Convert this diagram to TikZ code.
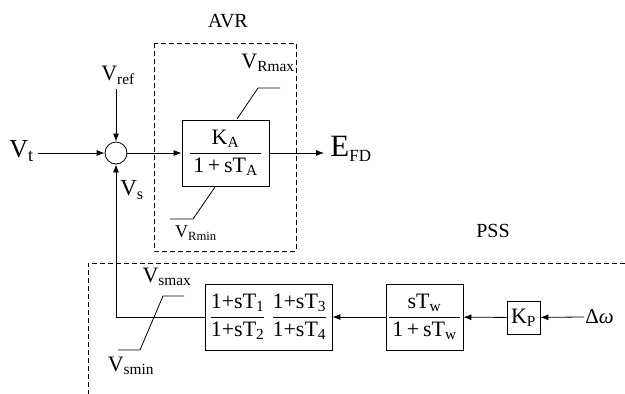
\documentclass[tikz,border=0pt]{standalone}
\usepackage{amsmath}
\usepackage{fontspec}
\setmainfont{Liberation Serif}
\usetikzlibrary{ positioning, arrows.meta, calc }

\begin{document}
\begin{tikzpicture}[x=1pt, y=-1pt, line width=0.8pt,
  every node/.style={font=\fontsize{20}{22}\selectfont, inner sep=0pt},
  blk/.style={draw, rectangle, minimum height=66pt, font=\fontsize{22}{24}\selectfont},
  arr/.style={-{Latex[length=8pt,width=6pt]}},
  frame/.style={dash pattern=on 5pt off 3pt, line width=0.7pt}]
  \useasboundingbox (0,0) rectangle (625,394);

  % AVR part
  \draw[frame] (154,43) rectangle (296,251);
  \node (avr) at (228,21) {AVR};
  \node[circle, draw, minimum size=22pt] (sum) at (116,153) {};
  \coordinate (vtin) at (38,153);
  \node[anchor=east, font=\fontsize{26}{28}\selectfont] (vt) at (34,151) {V\textsubscript{t}};
  \coordinate (vrefin) at (116,89);
  \node[anchor=south, font=\fontsize{22}{24}\selectfont] (vref) at (118,85) {V\textsubscript{ref}};
  \node[font=\fontsize{23}{25}\selectfont] (vs) at (132,190) {V\textsubscript{s}};
  \node[blk, minimum width=87pt] (ka) at (225.5,153)
    {$\dfrac{\text{K\textsubscript{A}}}{\,\text{1\,+\,sT\textsubscript{A}}\,}$};
  \coordinate (efdin) at (324,153);
  \node[anchor=west, font=\fontsize{31}{33}\selectfont] (efd) at (330,149)
    {E\raisebox{-5pt}{\fontsize{17}{17}\selectfont FD}};
  \draw[arr] (vtin) -- (sum);
  \draw[arr] (vrefin) -- (sum);
  \draw[arr] (sum) -- (ka);
  \draw[arr] (ka) -- (efdin);
  % limits
  \draw (237,119) -- (258,88) -- (280,88);
  \node[font=\fontsize{22}{24}\selectfont] (vrmax) at (268,63) {V\textsubscript{Rmax}};
  \draw (215,187) -- (193,219) -- (170,219);
  \node[font=\fontsize{18}{20}\selectfont] (vrmin) at (196,233) {V\textsubscript{Rmin}};

  % PSS part
  \draw[frame] (625,263) -- (88,263) -- (88,394);
  \node (pss) at (493,231) {PSS};
  \node[blk, minimum width=127pt] (ll) at (268.5,317)
    {$\dfrac{\text{1+sT\textsubscript{1}}}{\text{1+sT\textsubscript{2}}}\;
      \dfrac{\text{1+sT\textsubscript{3}}}{\text{1+sT\textsubscript{4}}}$};
  \node[blk, minimum width=77pt] (wo) at (424.5,317)
    {$\dfrac{\text{sT\textsubscript{w}}}{\,\text{1\,+\,sT\textsubscript{w}}\,}$};
  \node[blk, minimum width=33pt, minimum height=33pt] (kp) at (523.5,317.5) {K\textsubscript{P}};
  \coordinate (dwin) at (584,317);
  \node[anchor=west, font=\fontsize{21}{23}\selectfont] (dw) at (585,317) {Δ\textit{ω}};
  \draw[arr] (dwin) -- (kp);
  \draw[arr] (kp) -- (wo);
  \draw[arr] (wo) -- (ll);
  \draw[arr] (ll.west) -- (sum |- ll.west) -- (sum.south);
  % limits
  \draw (118,350) -- (140,350) -- (163,296) -- (184,296);
  \node[font=\fontsize{22}{24}\selectfont] (vsmax) at (167,277) {V\textsubscript{smax}};
  \node[font=\fontsize{22}{24}\selectfont] (vsmin) at (131,366) {V\textsubscript{smin}};
\end{tikzpicture}
\end{document}
